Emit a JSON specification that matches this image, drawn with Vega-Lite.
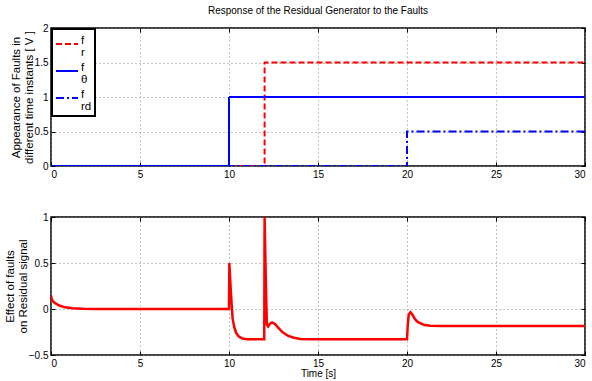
{
  "$schema": "https://vega.github.io/schema/vega-lite/v6.json",
  "background": "white",
  "padding": {"left": 3, "top": 5, "right": 0, "bottom": 2},
  "bounds": "flush",
  "spacing": 51,
  "datasets": {
    "faults": [
      {"t": 0, "v": 0, "s": "fr"}, {"t": 12, "v": 1.5, "s": "fr"}, {"t": 30, "v": 1.5, "s": "fr"},
      {"t": 0, "v": 0, "s": "fθ"}, {"t": 10, "v": 1, "s": "fθ"}, {"t": 30, "v": 1, "s": "fθ"},
      {"t": 0, "v": 0, "s": "frd"}, {"t": 20, "v": 0.5, "s": "frd"}, {"t": 30, "v": 0.5, "s": "frd"}
    ],
    "residual": [
      {"t": 0, "v": 0.15}, {"t": 0.05, "v": 0.1}, {"t": 0.15, "v": 0.075}, {"t": 0.3, "v": 0.055},
      {"t": 0.5, "v": 0.035}, {"t": 0.8, "v": 0.018}, {"t": 1.2, "v": 0.008}, {"t": 1.8, "v": 0.002},
      {"t": 2.5, "v": 0}, {"t": 10.0, "v": 0}, {"t": 10.02, "v": 0.5}, {"t": 10.1, "v": 0.2},
      {"t": 10.2, "v": -0.1}, {"t": 10.3, "v": -0.2}, {"t": 10.4, "v": -0.26}, {"t": 10.55, "v": -0.3},
      {"t": 10.75, "v": -0.32}, {"t": 11.0, "v": -0.328}, {"t": 11.98, "v": -0.33}, {"t": 12.0, "v": 1.0},
      {"t": 12.08, "v": 0.2}, {"t": 12.13, "v": -0.17}, {"t": 12.2, "v": -0.19}, {"t": 12.3, "v": -0.16},
      {"t": 12.42, "v": -0.145}, {"t": 12.6, "v": -0.165}, {"t": 12.8, "v": -0.21}, {"t": 13.0, "v": -0.25},
      {"t": 13.3, "v": -0.29}, {"t": 13.6, "v": -0.31}, {"t": 14.0, "v": -0.325}, {"t": 14.5, "v": -0.33},
      {"t": 20.0, "v": -0.33}, {"t": 20.05, "v": -0.15}, {"t": 20.1, "v": -0.06}, {"t": 20.2, "v": -0.035},
      {"t": 20.3, "v": -0.06}, {"t": 20.45, "v": -0.11}, {"t": 20.6, "v": -0.14}, {"t": 20.8, "v": -0.16},
      {"t": 21.0, "v": -0.175}, {"t": 21.3, "v": -0.182}, {"t": 22.0, "v": -0.185}, {"t": 30, "v": -0.185}
    ]
  },
  "vconcat": [
    {
      "width": 534,
      "height": 138,
      "title": {"text": "Response of the Residual Generator to the Faults", "fontSize": 10, "fontWeight": "normal", "font": "Liberation Sans", "offset": 7, "anchor": "middle", "color": "black"},
      "data": {"name": "faults"},
      "layer": [
        {
          "mark": {"type": "line", "interpolate": "step-after", "strokeWidth": 2, "clip": true},
          "encoding": {
            "x": {"field": "t", "type": "quantitative", "scale": {"domain": [0, 30], "nice": false},
                  "axis": {"title": null, "values": [0, 5, 10, 15, 20, 25, 30], "format": "d"}},
            "y": {"field": "v", "type": "quantitative", "scale": {"domain": [0, 2], "nice": false},
                  "axis": {"title": ["Appearance of Faults in", "different time instants [ V ]"], "values": [0, 0.5, 1, 1.5, 2], "format": "~g", "titlePadding": 0}},
            "color": {"field": "s", "type": "nominal", "scale": {"domain": ["fr", "fθ", "frd"], "range": ["#ff0000", "#0000ff", "#0000ff"]},
                      "legend": {"title": null, "labelExpr": "datum.label == 'fr' ? ['f', '\u00a0r'] : datum.label == 'fθ' ? ['f', '\u00a0θ'] : ['f', '\u00a0rd']"}},
            "strokeDash": {"field": "s", "type": "nominal", "scale": {"domain": ["fr", "fθ", "frd"], "range": [[6, 3], [1, 0], [8, 3, 2, 3]]},
                      "legend": {"title": null, "labelExpr": "datum.label == 'fr' ? ['f', '\u00a0r'] : datum.label == 'fθ' ? ['f', '\u00a0θ'] : ['f', '\u00a0rd']"}}
          }
        },
        {
          "mark": {"type": "point", "opacity": 0},
          "encoding": {
            "x": {"field": "t", "type": "quantitative", "axis": {"orient": "top", "labels": false, "grid": false, "title": null, "values": [0, 5, 10, 15, 20, 25, 30]}},
            "y": {"field": "v", "type": "quantitative", "axis": {"orient": "right", "labels": false, "grid": false, "title": null, "values": [0, 0.5, 1, 1.5, 2]}}
          }
        }
      ],
      "resolve": {"axis": {"x": "independent", "y": "independent"}}
    },
    {
      "width": 534,
      "height": 138,
      "data": {"name": "residual"},
      "layer": [
        {
          "mark": {"type": "line", "color": "#ff0000", "strokeWidth": 2.5, "clip": true},
          "encoding": {
            "x": {"field": "t", "type": "quantitative", "scale": {"domain": [0, 30], "nice": false},
                  "axis": {"title": "Time [s]", "values": [0, 5, 10, 15, 20, 25, 30], "format": "d", "titlePadding": 0}},
            "y": {"field": "v", "type": "quantitative", "scale": {"domain": [-0.5, 1], "nice": false},
                  "axis": {"title": ["Effect of faults", "on Residual signal"], "values": [-0.5, 0, 0.5, 1], "format": "~g", "titlePadding": 0}}
          }
        },
        {
          "mark": {"type": "point", "opacity": 0},
          "encoding": {
            "x": {"field": "t", "type": "quantitative", "axis": {"orient": "top", "labels": false, "grid": false, "title": null, "values": [0, 5, 10, 15, 20, 25, 30]}},
            "y": {"field": "v", "type": "quantitative", "axis": {"orient": "right", "labels": false, "grid": false, "title": null, "values": [-0.5, 0, 0.5, 1]}}
          }
        }
      ],
      "resolve": {"axis": {"x": "independent", "y": "independent"}}
    }
  ],
  "config": {
    "font": "Liberation Sans",
    "view": {"stroke": "black", "strokeWidth": 1.5},
    "axis": {
      "domain": false,
      "ticks": true,
      "tickSize": -4,
      "tickColor": "black",
      "tickWidth": 1,
      "labelPadding": 7,
      "labelFont": "Liberation Sans",
      "labelFontSize": 10,
      "labelColor": "black",
      "titleFont": "Liberation Sans",
      "titleFontSize": 11.5,
      "titleFontWeight": "normal",
      "titleColor": "black",
      "titleLineHeight": 13,
      "grid": true,
      "gridDash": [1, 3],
      "gridColor": "#888888",
      "gridWidth": 1,
      "gridOpacity": 1
    },
    "axisX": {"titleFontSize": 10},
    "legend": {
      "orient": "top-left",
      "offset": 1,
      "strokeColor": "black",
      "strokeWidth": 2,
      "fillColor": "white",
      "padding": 3,
      "titlePadding": 0,
      "symbolType": "stroke",
      "symbolSize": 484,
      "symbolStrokeWidth": 2,
      "labelFontSize": 11.5,
      "labelFont": "Liberation Sans",
      "labelColor": "black",
      "labelBaseline": "alphabetic",
      "labelOffset": 2,
      "rowPadding": -2
    },
    "style": {"guide-label": {"lineHeight": 12}}
  }
}
